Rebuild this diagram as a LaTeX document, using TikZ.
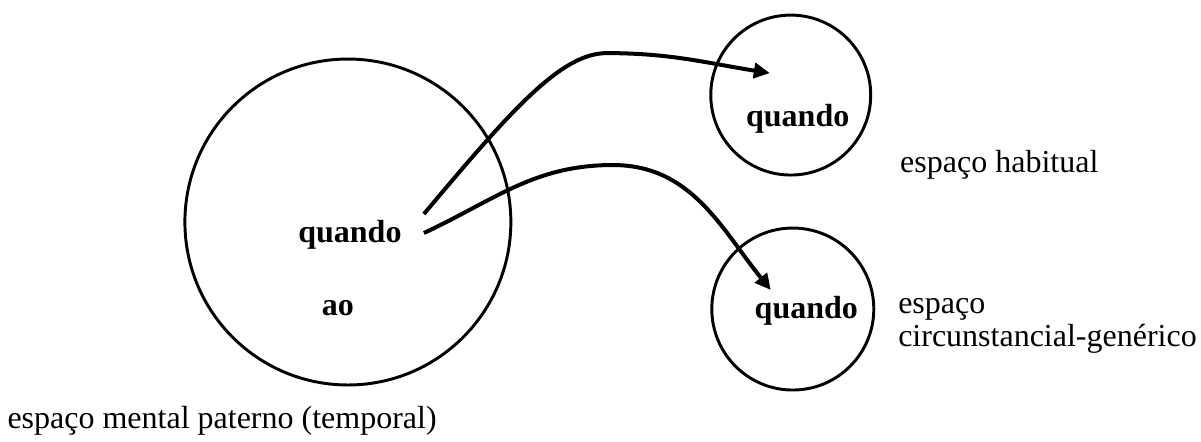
\documentclass[tikz,border=0pt]{standalone}
\usepackage{fontspec}
\setmainfont{Liberation Serif}
\usepackage{tikz}
\usetikzlibrary{arrows.meta, positioning}

\begin{document}
\begin{tikzpicture}[
    font=\fontsize{12pt}{12.5pt}\selectfont,
    espaco/.style={circle, draw, line width=1.1pt, inner sep=0pt},
    marca/.style={font=\fontsize{12pt}{12.5pt}\selectfont\bfseries, inner sep=0pt},
    rotulo/.style={inner sep=0pt, anchor=base west, align=left},
    conector/.style={-{Triangle[length=2.1mm, width=2mm]}, line width=1.5pt}
  ]
  \useasboundingbox (0,0) rectangle (15.829,5.825);

  % the three mental spaces
  \node[espaco, minimum size=4.296cm] (pai) at (4.585,2.899) {};
  \node[espaco, minimum size=2.108cm] (hab) at (10.422,4.572) {};
  \node[espaco, minimum size=2.135cm] (circ) at (10.449,1.752) {};

  \node[marca] (qpai) at (4.612,2.727) {quando};
  \node[marca] (ao) at (4.453,1.766) {ao};
  \node[marca] (qhab) at (10.514,4.256) {quando};
  \node[marca] (qcirc) at (10.627,1.726) {quando};

  % labels
  \node[inner sep=0pt, anchor=west] (lhab) at (11.858,3.650) {espaço habitual};
  \node[rotulo] (lcirc) at (11.832,1.252) {espaço\\circunstancial-genérico};
  \node[rotulo] (lpai) at (0.092,0.171) {espaço mental paterno (temporal)};

  % connectors
  \coordinate (s1) at (5.587,3.004);
  \coordinate (m1) at (7.998,5.125);
  \coordinate (e1) at (10.146,4.862);
  \coordinate (s2) at (5.587,2.754);
  \coordinate (m2) at (8.077,3.650);
  \coordinate (e2) at (10.159,2.003);

  \draw[conector] (s1) .. controls (6.744,4.383) and (7.398,5.125) .. (m1)
    to[out=0, in=171] (e1);
  \draw[conector] (s2) to[out=25, in=180] (m2) to[out=0, in=129] (e2);
\end{tikzpicture}
\end{document}
